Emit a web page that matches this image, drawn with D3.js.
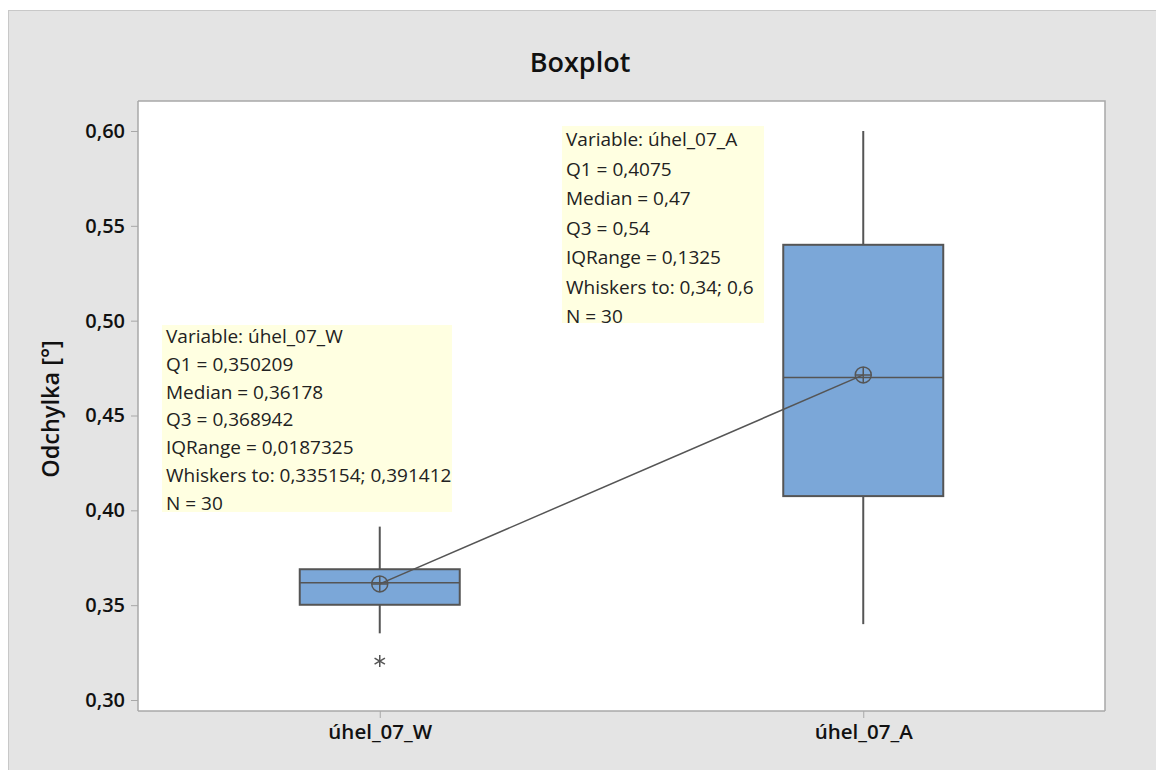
<!DOCTYPE html>
<html>
<head>
<meta charset="utf-8">
<script src="https://cdn.jsdelivr.net/npm/d3@7"></script>
<style>
  body { margin: 0; background: #ffffff; }
  svg text { font-family: "Open Sans", "Noto Sans", sans-serif; }
</style>
</head>
<body>
<svg id="chart" width="1156" height="770"></svg>
<script>
// Box statistics per variable
const categories = ["úhel_07_W", "úhel_07_A"];
const q1 = [0.350209, 0.4075];
const median = [0.36178, 0.47];
const q3 = [0.368942, 0.54];
const whiskerLow = [0.335154, 0.34];
const whiskerHigh = [0.391412, 0.6];
const means = [0.3612, 0.4714];
const outliers = [[0.3205], []];
const yTicks = [0.30, 0.35, 0.40, 0.45, 0.50, 0.55, 0.60];
const infoLines = [
  ["Variable: úhel_07_W", "Q1 = 0,350209", "Median = 0,36178", "Q3 = 0,368942",
   "IQRange = 0,0187325", "Whiskers to: 0,335154; 0,391412", "N = 30"],
  ["Variable: úhel_07_A", "Q1 = 0,4075", "Median = 0,47", "Q3 = 0,54",
   "IQRange = 0,1325", "Whiskers to: 0,34; 0,6", "N = 30"]
];

const svg = d3.select("#chart");
const W = 1156, H = 770;
const plot = { left: 138, top: 101, right: 1105, bottom: 711 };

// Outer grey panel
svg.append("rect").attr("x", 8.5).attr("y", 10.5).attr("width", W).attr("height", H)
  .attr("fill", "#e4e4e4").attr("stroke", "#c8c8c8");

// Plot area
svg.append("rect").attr("x", plot.left).attr("y", plot.top)
  .attr("width", plot.right - plot.left).attr("height", plot.bottom - plot.top)
  .attr("fill", "#ffffff");

const y = d3.scaleLinear().domain([0.30, 0.60]).range([700, 131]);
const y0 = y.invert(plot.bottom), y1 = y.invert(plot.top);
y.domain([y0, y1]).range([plot.bottom, plot.top]);

const x = d3.scalePoint().domain(categories).range([plot.left, plot.right]).padding(0.5);
const boxW = 160;

const fmt = v => d3.format(".2f")(v).replace(".", ",");

// Axes
const yAxis = d3.axisLeft(y).tickValues(yTicks).tickFormat(fmt).tickSize(7).tickPadding(6);
const gy = svg.append("g").attr("transform", `translate(${plot.left},0)`).call(yAxis);
const xAxis = d3.axisBottom(x).tickSize(7).tickPadding(6);
const gx = svg.append("g").attr("transform", `translate(0,${plot.bottom})`).call(xAxis);
[gy, gx].forEach(g => {
  g.select(".domain").attr("stroke", "#a8a8a8").attr("stroke-width", 1.5);
  g.selectAll(".tick line").attr("stroke", "#a8a8a8");
  g.selectAll(".tick text").attr("fill", "#111").attr("font-weight", 600)
    .style("font-family", "'Open Sans', sans-serif");
});
gy.selectAll(".tick text").attr("font-size", 20);
gx.selectAll(".tick text").attr("font-size", 20.5);
gy.select(".domain").attr("d", `M0,${plot.top}V${plot.bottom}`);
gx.select(".domain").attr("d", `M${plot.left},0H${plot.right}`);

// Right / top frame of plot area
svg.append("path")
  .attr("d", `M${plot.left},${plot.top}H${plot.right}V${plot.bottom}`)
  .attr("fill", "none").attr("stroke", "#a8a8a8").attr("stroke-width", 1.5);

// Title and axis label
svg.append("text").attr("x", 580).attr("y", 72).attr("text-anchor", "middle")
  .attr("font-size", 27).attr("font-weight", 600).attr("fill", "#111").text("Boxplot");
svg.append("text").attr("transform", "translate(59,409) rotate(-90)")
  .attr("text-anchor", "middle").attr("font-size", 23.5).attr("font-weight", 600)
  .attr("fill", "#111").text("Odchylka [°]");

// Info boxes
const infoPos = [
  { x: 162, y: 325, w: 290, h: 187, first: 343, step: 27.8 },
  { x: 562, y: 126, w: 202, h: 197, first: 146, step: 29.5 }
];
infoPos.forEach((p, i) => {
  svg.append("rect").attr("x", p.x).attr("y", p.y).attr("width", p.w).attr("height", p.h)
    .attr("fill", "#ffffe1");
  svg.append("g").selectAll("text").data(infoLines[i]).join("text")
    .attr("x", p.x + 4).attr("y", (d, k) => p.first + k * p.step)
    .attr("font-size", 19).attr("fill", "#222").text(d => d);
});

const stroke = "#555555";

// Whiskers
categories.forEach((c, i) => {
  svg.append("line").attr("x1", x(c)).attr("x2", x(c))
    .attr("y1", y(whiskerHigh[i])).attr("y2", y(q3[i]))
    .attr("stroke", stroke).attr("stroke-width", 2);
  svg.append("line").attr("x1", x(c)).attr("x2", x(c))
    .attr("y1", y(q1[i])).attr("y2", y(whiskerLow[i]))
    .attr("stroke", stroke).attr("stroke-width", 2);
  // Box
  svg.append("rect").attr("x", x(c) - boxW / 2).attr("y", y(q3[i]))
    .attr("width", boxW).attr("height", y(q1[i]) - y(q3[i]))
    .attr("fill", "#7ba7d8").attr("stroke", stroke).attr("stroke-width", 2);
  // Median
  svg.append("line").attr("x1", x(c) - boxW / 2).attr("x2", x(c) + boxW / 2)
    .attr("y1", y(median[i])).attr("y2", y(median[i]))
    .attr("stroke", stroke).attr("stroke-width", 1.5);
  // Outliers (asterisk)
  outliers[i].forEach(v => {
    const g = svg.append("g").attr("transform", `translate(${x(c)},${y(v)})`);
    [0, 60, 120].forEach(a => {
      g.append("line").attr("x1", 0).attr("y1", -6).attr("x2", 0).attr("y2", 6)
        .attr("transform", `rotate(${a})`).attr("stroke", stroke).attr("stroke-width", 1.5);
    });
  });
});

// Mean connect line
svg.append("path")
  .datum(categories.map((c, i) => [x(c), y(means[i])]))
  .attr("d", d3.line()).attr("fill", "none").attr("stroke", stroke).attr("stroke-width", 1.5);

// Mean symbols
categories.forEach((c, i) => {
  const g = svg.append("g").attr("transform", `translate(${x(c)},${y(means[i])})`);
  g.append("circle").attr("r", 8).attr("fill", "none").attr("stroke", stroke).attr("stroke-width", 1.5);
  g.append("path").attr("d", "M-8,0H8M0,-8V8").attr("stroke", stroke).attr("stroke-width", 1.5);
});
</script>
</body>
</html>
